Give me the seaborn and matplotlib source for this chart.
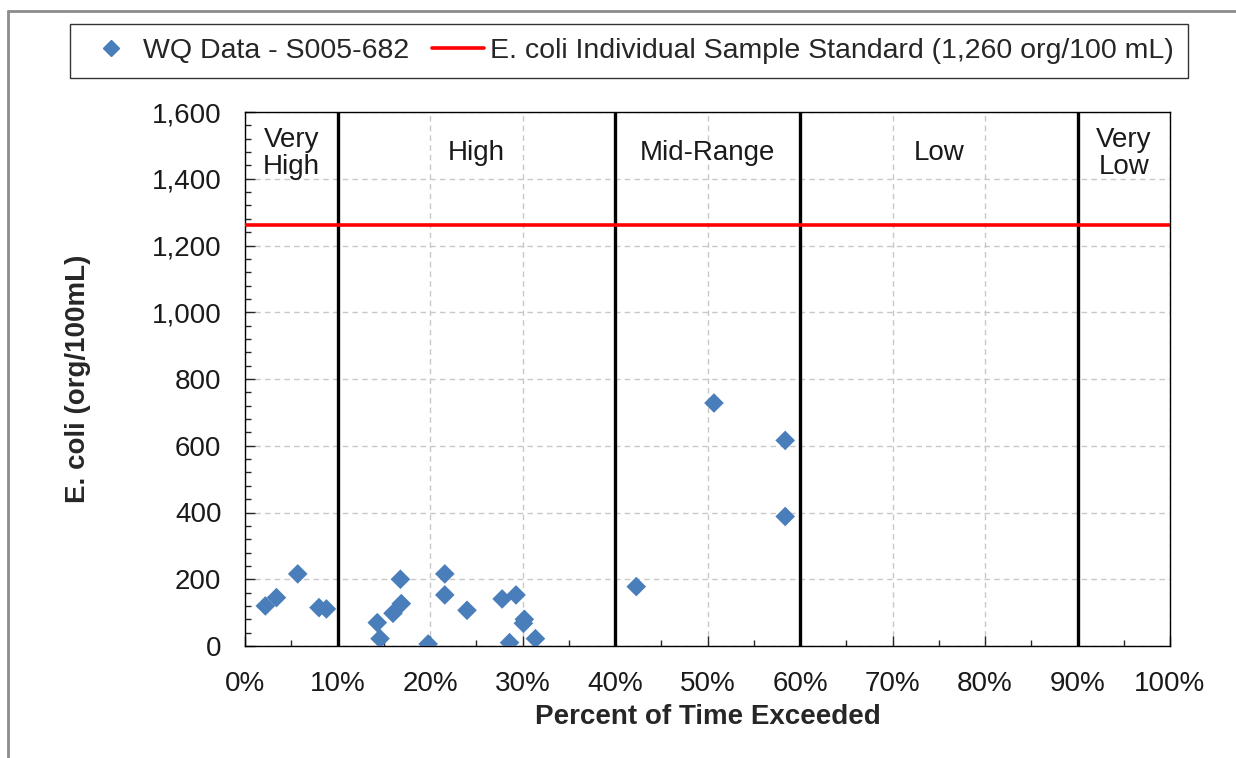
import numpy as np
import pandas as pd
import matplotlib
matplotlib.use("Agg")
import matplotlib.pyplot as plt
import matplotlib.ticker as mticker
from matplotlib.lines import Line2D
import seaborn as sns

# Water quality samples: percent of time exceeded vs E. coli
pct_exceeded = [2.2, 3.4, 5.7, 8.0, 8.8, 14.3, 14.6, 16.0, 16.9, 16.8, 19.8,
                21.6, 21.6, 24.0, 27.8, 29.3, 28.6, 30.2, 30.1, 31.4,
                42.3, 50.7, 58.4, 58.4]
ecoli = [120, 145, 216, 115, 111, 70, 22, 98, 127, 200, 6,
         216, 153, 107, 141, 153, 10, 80, 68, 22,
         178, 728, 616, 388]

standard = 1260
zone_bounds = [10, 40, 60, 90]
zone_labels = ["Very\nHigh", "High", "Mid-Range", "Low", "Very\nLow"]
zone_centers = [5, 25, 50, 75, 95]

df = pd.DataFrame({"pct": pct_exceeded, "ecoli": ecoli})

sns.set_style("white")
plt.rcParams['font.family'] = ['Liberation Sans', 'DejaVu Sans']

FS = 20
fig = plt.figure(figsize=(12.36, 7.58), dpi=100)
ax = fig.add_axes([245/1236, 1 - 646/758, (1170-245)/1236, (646-112)/758])

blue = "#4a7ebb"
sns.scatterplot(data=df, x="pct", y="ecoli", ax=ax, marker="D", s=100,
                color=blue, edgecolor="none", zorder=5, legend=False)

ax.axhline(standard, color="#ff0000", lw=2.6, zorder=4)
for b in zone_bounds:
    ax.axvline(b, color="black", lw=2.4, zorder=3)
for c, lab in zip(zone_centers, zone_labels):
    ax.text(c, 1477, lab, ha="center", va="center", fontsize=FS,
            multialignment="center", linespacing=1.05, color="#1a1a1a")

ax.set_xlim(0, 100)
ax.set_ylim(0, 1600)
ax.xaxis.set_major_locator(mticker.MultipleLocator(10))
ax.xaxis.set_minor_locator(mticker.MultipleLocator(5))
ax.yaxis.set_major_locator(mticker.MultipleLocator(200))
ax.yaxis.set_minor_locator(mticker.MultipleLocator(40))
ax.xaxis.set_major_formatter(mticker.FuncFormatter(lambda v, p: f"{v:.0f}%"))
ax.yaxis.set_major_formatter(mticker.FuncFormatter(lambda v, p: f"{v:,.0f}"))
ax.tick_params(axis="both", which="major", direction="in", length=7, width=1,
               labelsize=FS, labelcolor="#1a1a1a")
ax.tick_params(axis="x", which="major", pad=18)
ax.tick_params(axis="y", which="major", pad=17)
ax.tick_params(axis="both", which="minor", direction="in", length=4, width=1)
ax.tick_params(axis="x", which="both", bottom=True)
ax.tick_params(axis="y", which="both", left=True)

ax.grid(True, which="major", color="#c8c8c8", linestyle=(0, (4, 3)), lw=1)
ax.set_axisbelow(True)
for s in ax.spines.values():
    s.set_color("black")
    s.set_linewidth(1)

ax.set_xlabel("Percent of Time Exceeded", fontsize=FS, fontweight="bold", labelpad=5)
ax.set_ylabel("E. coli (org/100mL)", fontsize=FS, fontweight="bold", labelpad=44)

handles = [
    Line2D([], [], marker="D", color=blue, linestyle="none", markersize=8),
    Line2D([], [], color="#ff0000", lw=2.6),
]
labels = ["WQ Data - S005-682", "E. coli Individual Sample Standard (1,260 org/100 mL)"]
leg = fig.legend(handles, labels, loc="center", bbox_to_anchor=(629/1236, 1 - 51/758),
                 ncol=2, fontsize=20.5, frameon=True, fancybox=False, edgecolor="black",
                 handlelength=1.85, columnspacing=0.8, handletextpad=0.2,
                 borderpad=0.5, borderaxespad=0)
leg.get_frame().set_linewidth(1)

# chart area border
fig.add_artist(Line2D([7.5/1236, 7.5/1236], [0, 1 - 11/758], color="#8c8c8c", lw=2,
                      transform=fig.transFigure))
fig.add_artist(Line2D([7.5/1236, 1], [1 - 11/758, 1 - 11/758], color="#8c8c8c", lw=2,
                      transform=fig.transFigure))

fig.savefig("out.png", dpi=100)
